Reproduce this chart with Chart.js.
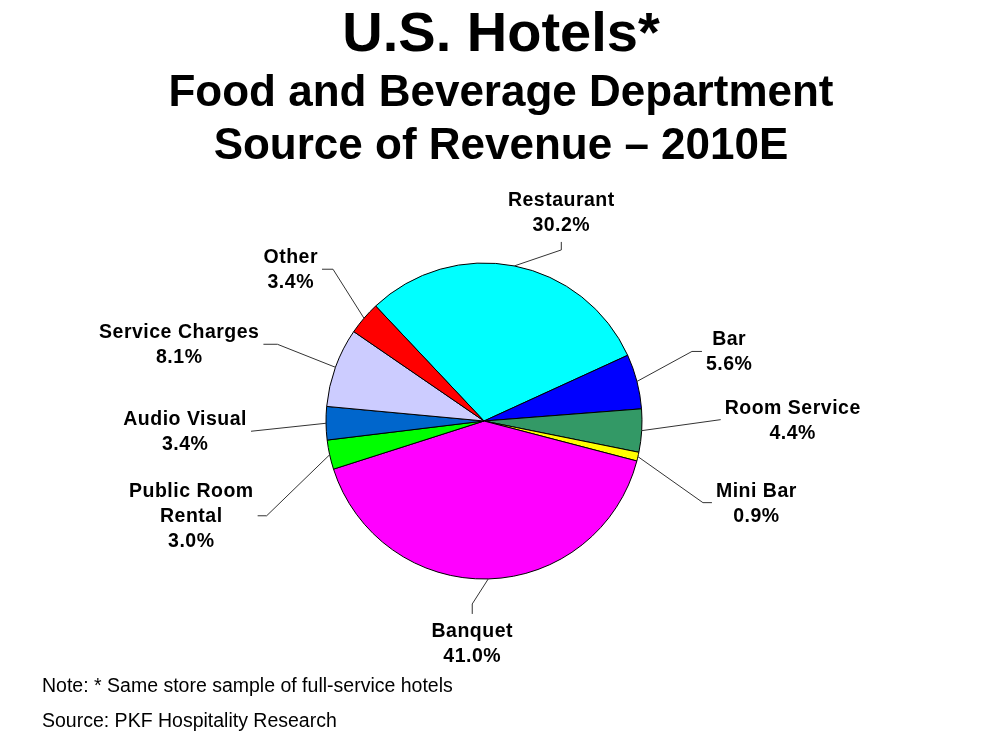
<!DOCTYPE html>
<html>
<head>
<meta charset="utf-8">
<script src="https://cdn.jsdelivr.net/npm/chart.js@4.4.1/dist/chart.umd.min.js"></script>
<style>
    html, body { margin: 0; padding: 0; background: #fff; }
    #page { position: relative; width: 1000px; height: 749px; overflow: hidden; font-family: "Liberation Sans", Arial, sans-serif; }
    #chart-box { position: absolute; left: 0; top: 0; width: 1000px; height: 749px; }
    .title { position: absolute; left: 0; width: 1002px; text-align: center; font-weight: bold; color: #000; white-space: nowrap; }
    .note { position: absolute; left: 42px; font-size: 19.5px; color: #000; white-space: nowrap; }
</style>
</head>
<body>
<div id="page">
    <div id="chart-box"><canvas id="pie-chart"></canvas></div>
    <div class="title" style="top: 1px; font-size: 56px; line-height: 62px;">U.S. Hotels*</div>
    <div class="title" style="top: 66px; font-size: 44px; line-height: 50px;">Food and Beverage Department</div>
    <div class="title" style="top: 119px; font-size: 44px; line-height: 50px;">Source of Revenue – 2010E</div>
    <div class="note" style="top: 674px;">Note: * Same store sample of full-service hotels</div>
    <div class="note" style="top: 709px;">Source: PKF Hospitality Research</div>
</div>
<script>
const categories = ['Restaurant', 'Bar', 'Room Service', 'Mini Bar', 'Banquet', 'Public Room\nRental', 'Audio Visual', 'Service Charges', 'Other'];
const shares = [30.2, 5.6, 4.4, 0.9, 41.0, 3.0, 3.4, 8.1, 3.4];
const sliceColors = ['#00FFFF', '#0000FF', '#339966', '#FFFF00', '#FF00FF', '#00FF00', '#0066CC', '#CCCCFF', '#FF0000'];

// leader line shape per slice: elbow offset from the slice edge, tail length, side the text sits on
const leaders = [
    { dx: 47, dy: -16, tail: 8, side: 'up' },
    { dx: 55, dy: -30, tail: 10, side: 'right' },
    { dx: 79, dy: -11, tail: 0, side: 'right' },
    { dx: 65, dy: 46, tail: 9, side: 'right' },
    { dx: -16, dy: 25, tail: 10, side: 'down' },
    { dx: -63, dy: 61, tail: 9, side: 'left' },
    { dx: -75, dy: 8, tail: 0, side: 'left' },
    { dx: -58, dy: -23, tail: 14, side: 'left' },
    { dx: -31, dy: -49, tail: 11, side: 'left' }
];

const labelFont = 'bold 19.5px "Liberation Sans", Arial, sans-serif';
const lineGap = 25;

const leaderLabels = {
    id: 'leaderLabels',
    afterDatasetsDraw(chart) {
        const ctx = chart.ctx;
        const meta = chart.getDatasetMeta(0);
        ctx.save();
        ctx.font = labelFont;
        if ('letterSpacing' in ctx) ctx.letterSpacing = '0.5px';
        ctx.textAlign = 'center';
        ctx.textBaseline = 'middle';
        meta.data.forEach((arc, i) => {
            const { x, y, startAngle, endAngle, outerRadius } = arc.getProps(['x', 'y', 'startAngle', 'endAngle', 'outerRadius'], true);
            const mid = (startAngle + endAngle) / 2;
            const ex = x + Math.cos(mid) * outerRadius;
            const ey = y + Math.sin(mid) * outerRadius;
            const ld = leaders[i];
            const bx = ex + ld.dx;
            const by = ey + ld.dy;
            let tx = bx, ty = by;
            if (ld.side === 'right') tx = bx + ld.tail;
            if (ld.side === 'left') tx = bx - ld.tail;
            if (ld.side === 'up') ty = by - ld.tail;
            if (ld.side === 'down') ty = by + ld.tail;

            ctx.strokeStyle = '#333';
            ctx.lineWidth = 1;
            ctx.beginPath();
            ctx.moveTo(ex, ey);
            ctx.lineTo(bx, by);
            ctx.lineTo(tx, ty);
            ctx.stroke();

            const lines = categories[i].split('\n').concat([shares[i].toFixed(1) + '%']);
            const maxW = Math.max(...lines.map(l => ctx.measureText(l).width));
            let cx = tx, cy = ty;
            const blockH = (lines.length - 1) * lineGap;
            if (ld.side === 'right') { cx = tx + 4 + maxW / 2; cy = ty + 1 - blockH / 2; }
            if (ld.side === 'left') { cx = tx - 4 - maxW / 2; cy = ty + 1 - blockH / 2; }
            if (ld.side === 'up') { cy = ty - 16 - blockH; }
            if (ld.side === 'down') { cy = ty + 18; }
            ctx.fillStyle = '#000';
            lines.forEach((l, k) => ctx.fillText(l, cx, cy + k * lineGap));
        });
        ctx.restore();
    }
};

new Chart(document.getElementById('pie-chart'), {
    type: 'pie',
    data: {
        labels: categories,
        datasets: [{
            data: shares,
            backgroundColor: sliceColors,
            borderColor: '#000',
            borderWidth: 1,
            radius: 158
        }]
    },
    options: {
        responsive: true,
        maintainAspectRatio: false,
        animation: false,
        rotation: -43.3,
        layout: { padding: { left: 0, right: 32, top: 93, bottom: 0 } },
        plugins: {
            legend: { display: false },
            tooltip: { enabled: false }
        }
    },
    plugins: [leaderLabels]
});
</script>
</body>
</html>
